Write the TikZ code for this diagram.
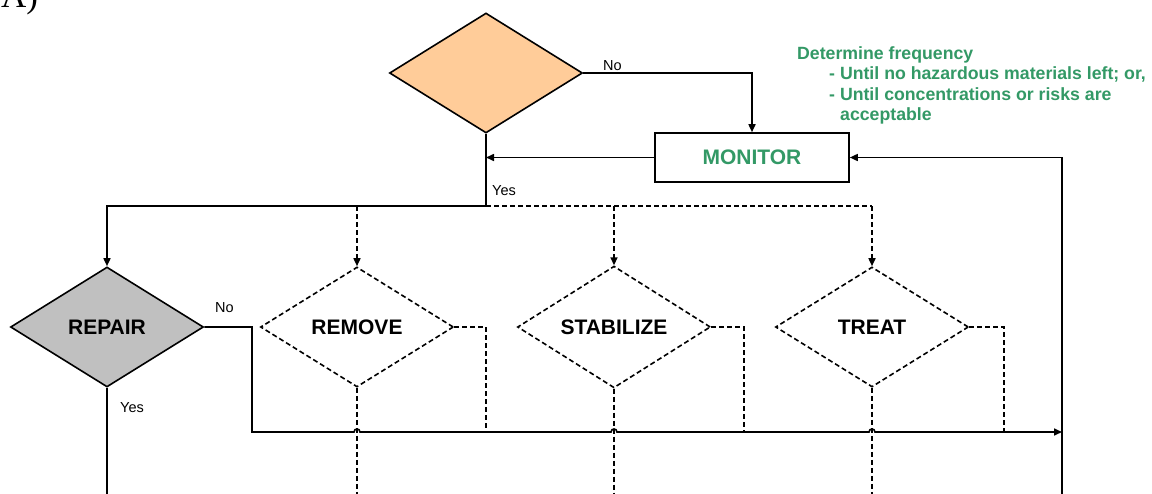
\documentclass[tikz,border=0pt]{standalone}
\usepackage{fontspec}
\setmainfont{Liberation Sans}
\newfontfamily\timesfont{Liberation Serif}
\usetikzlibrary{shapes.geometric,arrows.meta}
\definecolor{orangefill}{HTML}{FFCC99}
\definecolor{grayfill}{HTML}{C0C0C0}
\definecolor{textgreen}{HTML}{339966}
\begin{document}
\begin{tikzpicture}[x=1pt,y=-1pt,
  dec/.style={diamond, draw, line width=1.6pt, minimum width=193pt, minimum height=120pt, inner sep=0pt, font=\fontsize{21}{24}\selectfont\bfseries},
  optdec/.style={dec, dash pattern=on 5pt off 3pt},
  ln/.style={line width=1.6pt},
  dln/.style={line width=1.6pt, dash pattern=on 5pt off 3pt},
  arr/.style={-{Triangle[length=8pt,width=7pt]}},
  lbl/.style={font=\fontsize{14.5}{16}\selectfont, inner sep=0pt, anchor=base west},
  grn/.style={text=textgreen, font=\fontsize{17.7}{20}\selectfont\bfseries, inner sep=0pt, anchor=base west},
]
\useasboundingbox (0,0) rectangle (1152,493);
\fill[white] (0,0) rectangle (1152,493);

% corner label (cut off at the top)
\node[font=\timesfont\fontsize{35}{40}\selectfont, anchor=base west, inner sep=0pt] (alabel) at (1,7) {A)};

% nodes
\node[dec, fill=orangefill] (q) at (486,73) {};
\node[draw, line width=1.6pt, minimum width=194pt, minimum height=49pt, inner sep=0pt,
      text=textgreen, font=\fontsize{21}{24}\selectfont\bfseries] (monitor) at (752,157.5) {MONITOR};
\node[dec, fill=grayfill] (repair) at (107,327) {REPAIR};
\node[optdec] (remove) at (357,327) {REMOVE};
\node[optdec] (stab) at (614,327) {STABILIZE};
\node[optdec] (treat) at (872,327) {TREAT};

% green note
\node[grn] (f1) at (797,59) {Determine frequency};
\node[grn] (f2) at (829,79.5) {- Until no hazardous materials left; or,};
\node[grn] (f3) at (829,100) {- Until concentrations or risks are};
\node[grn] (f4) at (840,120.5) {acceptable};

% coordinates
\coordinate (br) at (486,206);
\coordinate (bottom) at (0,496);
\coordinate (mainR) at (1062,432);
\coordinate (rb) at (1062,496);
\coordinate (remJ) at (486,432);
\coordinate (stabJ) at (744,432);
\coordinate (treatJ) at (1004,432);

% top part
\draw[ln,arr] (q.east) -| (monitor.north);
\node[lbl] (no1) at (603,70) {No};
\draw[ln,arr] (monitor.west) -- (q.south |- monitor.west);
\draw[ln] (q.south) -- (br);
\node[lbl] (yes1) at (492,195) {Yes};
\draw[ln,arr] (br) -| (repair.north);
\draw[dln] (br) -- (treat.north |- br);
\draw[dln,arr] (remove.north |- br) -- (remove.north);
\draw[dln,arr] (stab.north |- br) -- (stab.north);
\draw[dln,arr] (treat.north |- br) -- (treat.north);

% right return line
\draw[ln,arr] (rb) |- (monitor.east);

% dashed outlets of the options
\draw[dln] (remove.east) -| (remJ);
\draw[dln] (stab.east) -| (stabJ);
\draw[dln] (treat.east) -| (treatJ);
\draw[dln] (remove.south) -- (remove.south |- bottom);
\draw[dln] (stab.south) -- (stab.south |- bottom);
\draw[dln] (treat.south) -- (treat.south |- bottom);

% repair outlets
\draw[ln] (repair.south) -- (repair.south |- bottom);
\node[lbl] (yes2) at (120,412) {Yes};
\node[lbl] (no2) at (215,312) {No};
\draw[ln,arr] (repair.east) -- (252,327) -- (252,432) -- (354,432)
  .. controls (354,428) and (360,428) .. (360,432) -- (611,432)
  .. controls (611,428) and (617,428) .. (617,432) -- (869,432)
  .. controls (869,428) and (875,428) .. (875,432) -- (mainR);
\end{tikzpicture}
\end{document}
